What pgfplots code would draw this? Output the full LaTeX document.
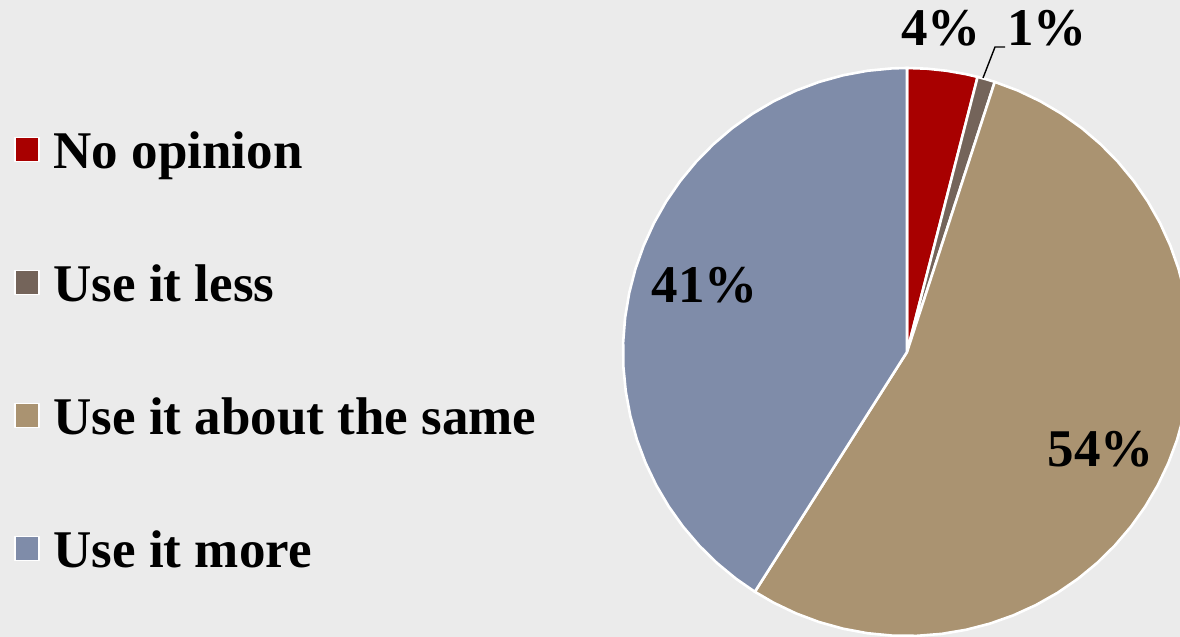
\documentclass[border=0pt]{standalone}
\usepackage{pgfplots}
\pgfplotsset{compat=1.18}
\usepackage{fontspec}
\setmainfont{Liberation Serif}
\definecolor{bggray}{HTML}{EBEBEB}
\definecolor{cRed}{HTML}{A80000}
\definecolor{cBrown}{HTML}{74645A}
\definecolor{cTan}{HTML}{AA9371}
\definecolor{cBlue}{HTML}{7F8CA9}
\begin{document}
\begin{tikzpicture}
\useasboundingbox (0,0) rectangle (590pt,318.5pt);
\fill[bggray] (0,0) rectangle (590pt,318.5pt);
\begin{axis}[
  at={(0,0)}, anchor=south west,
  scale only axis, width=590pt, height=318.5pt,
  xmin=-3.1937, xmax=0.9613, ymin=-1.0035, ymax=1.2394,
  hide axis,
  legend style={draw=none, fill=none, inner sep=0pt, column sep=7pt,
    at={(0.01186,0.7991)}, anchor=north west,
    row sep=40.5pt,
    font=\bfseries\fontsize{26.5}{30}\selectfont,
    nodes={inner sep=0pt, text height=20pt, text depth=6pt}},
  legend cell align=left,
  legend image code/.code={\draw[#1, draw=white, line width=0.6pt] (0pt,-3.5pt) rectangle (12pt,8.5pt);},
]
% No opinion 4%  (90 -> 75.6 deg)
\addplot[data cs=polar, fill=cRed, draw=white, line width=1.3pt, line join=round]
  coordinates {(0,0) (90,1) (86,1) (82,1) (78,1) (75.6,1) (0,0)};
\addlegendentry{No opinion}
% Use it less 1%  (75.6 -> 72 deg)
\addplot[data cs=polar, fill=cBrown, draw=white, line width=1.3pt, line join=round]
  coordinates {(0,0) (75.6,1) (73.8,1) (72,1) (0,0)};
\addlegendentry{Use it less}
% Use it about the same 54%  (72 -> -122.4 deg)
\addplot[data cs=polar, fill=cTan, draw=white, line width=1.3pt, line join=round]
  coordinates {(0,0) (72,1) (67,1) (62,1) (57,1) (52,1) (47,1) (42,1) (37,1) (32,1) (27,1) (22,1) (17,1) (12,1) (7,1) (2,1) (-3,1) (-8,1) (-13,1) (-18,1) (-23,1) (-28,1) (-33,1) (-38,1) (-43,1) (-48,1) (-53,1) (-58,1) (-63,1) (-68,1) (-73,1) (-78,1) (-83,1) (-88,1) (-93,1) (-98,1) (-103,1) (-108,1) (-113,1) (-118,1) (-122.4,1) (0,0)};
\addlegendentry{Use it about the same}
% Use it more 41%  (-122.4 -> -270 deg)
\addplot[data cs=polar, fill=cBlue, draw=white, line width=1.3pt, line join=round]
  coordinates {(0,0) (-122.4,1) (-127,1) (-132,1) (-137,1) (-142,1) (-147,1) (-152,1) (-157,1) (-162,1) (-167,1) (-172,1) (-177,1) (-182,1) (-187,1) (-192,1) (-197,1) (-202,1) (-207,1) (-212,1) (-217,1) (-222,1) (-227,1) (-232,1) (-237,1) (-242,1) (-247,1) (-252,1) (-257,1) (-262,1) (-267,1) (-270,1) (0,0)};
\addlegendentry{Use it more}
\begin{scope}[every node/.style={font=\bfseries\fontsize{26.5}{30}\selectfont, inner sep=0pt}]
\node at (axis cs:0.1197,1.1400) {4\%};
\node at (axis cs:0.4930,1.1400) {1\%};
\node at (axis cs:-0.7113,0.2359) {41\%};
\node at (axis cs:0.6830,-0.3415) {54\%};
\end{scope}
\draw[black, line width=0.7pt] (axis cs:0.3451,1.0739) -- (axis cs:0.3099,1.0739) -- (axis cs:0.2676,0.9648);
\end{axis}
\end{tikzpicture}
\end{document}
